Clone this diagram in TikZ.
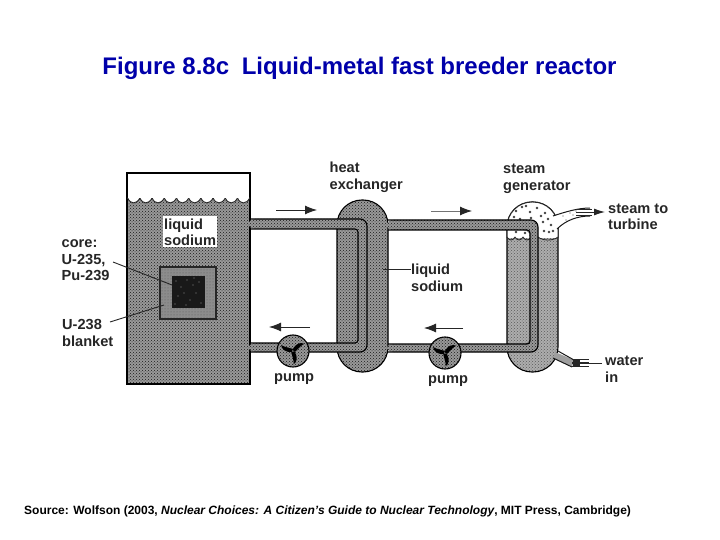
\documentclass[tikz,border=0pt]{standalone}
\usepackage{fontspec}
\setmainfont{Liberation Sans}
\usetikzlibrary{patterns,arrows.meta}
\definecolor{titleblue}{RGB}{0,0,170}
\tikzset{
  x=1pt,y=-1pt,
  dotted fluid/.style={preaction={fill=black!40},pattern=crosshatch dots,pattern color=black!90},
  light fluid/.style={preaction={fill=black!32},pattern=crosshatch dots,pattern color=black!65},
  outline/.style={draw=black,line width=1.1pt},
  tanklabel/.style={font=\fontsize{14.6}{17}\selectfont\bfseries,text=black!85,align=left,inner sep=0pt,anchor=north west},
  leader/.style={draw=black!85,line width=0.9pt},
  flowarrow/.style={draw=black!85,line width=0.9pt,-{Latex[length=12pt,width=9pt]}},
  pumpbody/.style={circle,minimum size=32pt,inner sep=0pt,draw=black,line width=1.1pt,dotted fluid},
  blade/.style={fill=black},
}
\begin{document}
\begin{tikzpicture}
\useasboundingbox (0,0) rectangle (720,540);
\fill[white] (0,0) rectangle (720,540);
% title
\node[inner sep=0pt,text=titleblue,font=\fontsize{24}{28}\selectfont\bfseries] (title) at (359.5,68) {Figure 8.8c\hspace{6pt} Liquid-metal fast breeder reactor};
% tank
\path[dotted fluid] (127,199) rectangle (250,384);
\draw[outline,line width=1.5pt] (250,199) -- (250,173) -- (127,173) -- (127,384) -- (250,384) -- (250,199);
\foreach \i in {0,...,9}{
  \fill[white] (127.7+\i*12.2,198) .. controls (130.5+\i*12.2,204.5) and (136.5+\i*12.2,204.5) .. (139.9+\i*12.2,198) -- cycle;
  \draw[black!85,line width=0.9pt] (127.7+\i*12.2,198) .. controls (130.5+\i*12.2,204.5) and (136.5+\i*12.2,204.5) .. (139.9+\i*12.2,198);
}
\fill[white] (128,174) rectangle (249,198.5);
% core and blanket
\path[preaction={fill=black!45},pattern=dots,pattern color=black!65] (160,267) rectangle (216,319);
\draw[black!85,line width=1.2pt] (160,267) rectangle (216,319);
\fill[black!90] (172,276) rectangle (205,308);
\foreach \a/\b in {176/281,181/287,187/280,193/285,199/282,178/296,184/293,190/300,196/293,201/303,175/304,186/305,194/278}
  \fill[black!45] (\a,\b) circle (0.6);
% liquid sodium label in tank
\fill[white] (163,216) rectangle (217,247);
\node[tanklabel] (tanksodium) at (164,219) {liquid\\[-0.8pt]sodium};
% heat exchanger
\path[dotted fluid,outline,rounded corners=25pt] (337,200) rectangle (388,372);
% steam generator
\path[light fluid,outline,rounded corners=25pt] (507,202) rectangle (558,372);
\begin{scope}
\clip (505,200) rectangle (560,237);
\fill[white,draw=black!85,line width=1pt,rounded corners=25pt] (507,202) rectangle (558,372);
\end{scope}
\foreach \i in {0,...,2}
  \draw[black!85,line width=0.8pt] (507+\i*8,237) .. controls (509+\i*8,241) and (513+\i*8,241) .. (515+\i*8,237);
\draw[black!85,line width=0.8pt] (538,237) .. controls (543,241) and (553,241) .. (558,237);
\foreach \a/\b in {516/211,522/207,530/212,537/208,545/213,520/219,528/224,543/222,551/225,512/226,537/229,549/232,516/232,525/233,531/218,514/217,526/206,541/216,548/219,544/231,553/231}
  \draw[black!75,line width=0.6pt] (\a,\b) circle (0.9);
% steam out pipe
\fill[white] (553,216) .. controls (565,212) and (578,208) .. (592,208) -- (592,216) .. controls (578,216) and (566,220) .. (557,229) -- cycle;
\draw[black!90,line width=1pt] (553,216) .. controls (565,212) and (578,208) .. (590,208);
\draw[black!90,line width=1pt] (557,229) .. controls (566,220) and (578,216) .. (590,216);
\foreach \a/\b in {563/216,570/213,576/211,566/220,573/215}
  \fill[black!70] (\a,\b) circle (0.6);
\foreach \b in {209,212,215}
  \draw[black!85,line width=0.9pt] (576,\b) -- (592,\b);
\coordinate (steamstart) at (590,212);
% water in pipe
\fill[black!38] (555,352) -- (574,360) -- (572,367) -- (553,358) -- cycle;
\draw[black!90,line width=1pt] (558,351) -- (574,360);
\draw[black!90,line width=1pt] (553,358) -- (572,367);
\foreach \b in {359.5,363,366.5}
  \draw[black!85,line width=1.1pt] (572,\b) -- (589,\b);
\fill[black!85] (573,359) rectangle (580,367);
% primary loop
\path[dotted fluid,rounded corners=7pt] (248,219) -- (367,219) -- (367,352) -- (248,352) -- (248,343) -- (358,343) -- (358,229) -- (248,229) -- cycle;
\draw[outline,rounded corners=7pt] (250,219) -- (367,219) -- (367,352) -- (250,352);
\draw[outline,rounded corners=3pt] (250,343) -- (358,343) -- (358,229) -- (250,229);
% secondary loop
\path[dotted fluid,rounded corners=7pt] (386,220) -- (538,220) -- (538,352) -- (386,352) -- (386,344) -- (530,344) -- (530,230) -- (386,230) -- cycle;
\draw[outline,rounded corners=7pt] (388,220) -- (538,220) -- (538,352) -- (388,352);
\draw[outline,rounded corners=3pt] (388,344) -- (530,344) -- (530,230) -- (388,230);
% pumps
\foreach \name/\cx/\cy in {pumpa/293/351,pumpb/445/353}{
  \node[pumpbody] (\name) at (\cx,\cy) {};
  \begin{scope}[shift={(\cx,\cy)}]
    \foreach \r in {20,140,260}{
      \begin{scope}[rotate=\r]
        \fill[blade] (0,-1.5) .. controls (5,-6) and (10,-6) .. (13,-3) .. controls (9,-2.5) and (5,0) .. (1.5,1.5) -- cycle;
      \end{scope}
    }
  \end{scope}
}
% flow arrows
\coordinate (fa1) at (276,210); \coordinate (fb1) at (317,210);
\coordinate (fa2) at (310,327); \coordinate (fb2) at (269,327);
\coordinate (fa3) at (431,211); \coordinate (fb3) at (472,211);
\coordinate (fa4) at (463,328); \coordinate (fb4) at (424,328);
\draw[flowarrow] (fa1) -- (fb1);
\draw[flowarrow] (fa2) -- (fb2);
\draw[flowarrow,draw=black!55,-{Latex[length=12pt,width=9pt,black!85]}] (fa3) -- (fb3);
\draw[flowarrow] (fa4) -- (fb4);
% labels
\node[tanklabel] (hx) at (329.5,162) {heat\\[-0.2pt]exchanger};
\node[tanklabel] (sg) at (503,163.5) {steam\\[-0.2pt]generator};
\node[tanklabel] (turbine) at (608,203.5) {steam to\\[-1pt]turbine};
\node[tanklabel] (water) at (605,356) {water\\[-0.5pt]in};
\node[tanklabel] (sodium) at (411,263.5) {liquid\\[-0.2pt]sodium};
\node[tanklabel] (core) at (61.5,239.5) {core:\\[-0.3pt]U-235,\\[-0.3pt]Pu-239};
\node[tanklabel] (blanket) at (62,319) {U-238\\[0.5pt]blanket};
\node[tanklabel] (pumpla) at (274,373) {pump};
\node[tanklabel] (pumplb) at (428,375) {pump};
% leaders
\coordinate (coretip) at (172,285);
\coordinate (blankettip) at (164,305);
\coordinate (hxtip) at (383,269);
\draw[leader] (113,262) -- (coretip);
\draw[leader] (110,322) -- (blankettip);
\draw[leader] (sodium.west |- hxtip) -- (hxtip);
\draw[flowarrow,-{Latex[length=11pt,width=7pt]},shorten >=3pt] (steamstart) -- (turbine.west |- steamstart);
\draw[leader,shorten <=3pt] (water.west |- 0,363) -- (588,363);
% source
\node[inner sep=0pt,anchor=west,font=\fontsize{12}{14}\selectfont] (source) at (24,511) {\bfseries Source: Wolfson (2003, \textit{Nuclear Choices: A Citizen’s Guide to Nuclear Technology}, MIT Press, Cambridge)};
\end{tikzpicture}
\end{document}
